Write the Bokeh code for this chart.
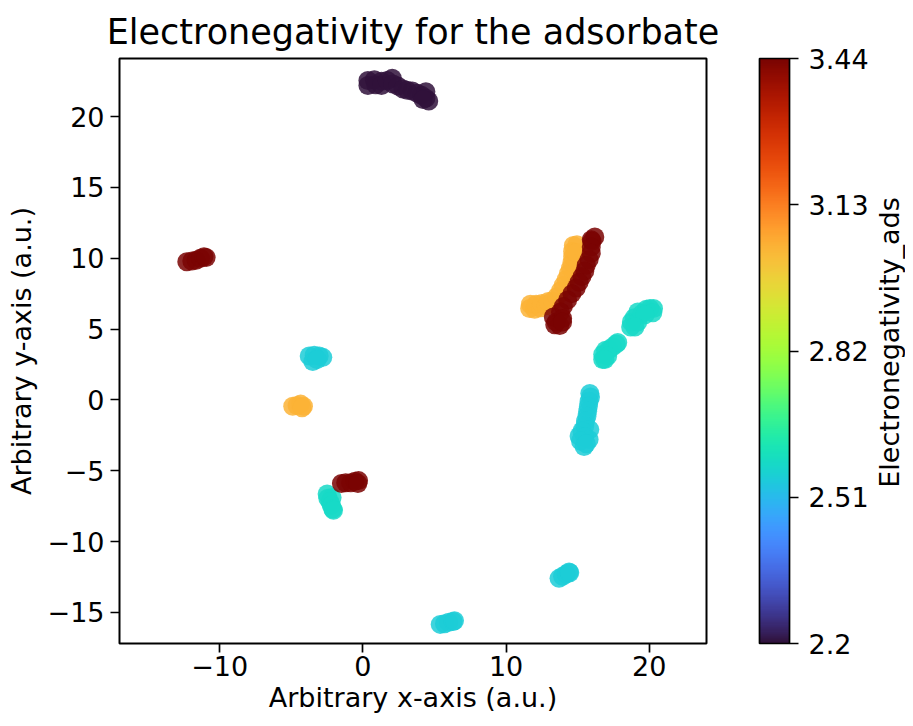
from bokeh.plotting import figure
from bokeh.layouts import row
from bokeh.models import (ColumnDataSource, ColorBar, LinearColorMapper, FixedTicker,
                          CustomJSTickFormatter, Label)
from bokeh.palettes import Turbo256
from bokeh.embed import file_html
from bokeh.resources import INLINE

# ---------------- data ----------------
EN_H, EN_C, EN_S, EN_N, EN_O = 2.20, 2.55, 2.58, 3.04, 3.44
EN_LOW, EN_HIGH = 2.2, 3.44
cbar_ticks = [2.2, 2.51, 2.82, 3.13, 3.44]
x_ticks = [-10, 0, 10, 20]
y_ticks = [-15, -10, -5, 0, 5, 10, 15, 20]

# hydrogen (top cluster)
h_x = [0.35, 0.35, 0.8, 0.9, 1.3, 1.3, 1.7, 2.05, 2.1, 2.45, 2.8, 3.1, 3.45, 3.8, 4.1, 4.4, 4.4, 4.6, 4.2]
h_y = [22.55, 22.2, 22.6, 22.25, 22.5, 22.2, 22.55, 22.7, 22.3, 22.15, 21.95, 21.85, 21.8, 21.65, 21.5, 21.75, 21.3, 21.1, 21.2]

# carbon
c_x = [-3.75, -3.4, -3.05, -2.8, -3.5, -3.2,
       5.4, 5.7, 6.0, 6.3, 6.4,
       13.7, 13.95, 14.2, 14.4, 14.45,
       15.85, 15.9, 15.8, 15.75, 15.7, 15.65, 15.55, 15.5, 15.85, 15.3, 15.1, 15.5, 15.8, 15.2, 15.45, 15.6]
c_y = [3.1, 3.15, 3.1, 3.0, 2.7, 2.85,
       -15.85, -15.8, -15.7, -15.65, -15.6,
       -12.6, -12.45, -12.3, -12.15, -12.2,
       0.45, 0.2, -0.1, -0.45, -0.8, -1.15, -1.5, -1.85, -2.1, -2.2, -2.55, -2.6, -2.8, -2.9, -3.3, -3.1]

# sulfur
s_x = [-2.5, -2.45, -2.15, -2.3, -2.2, -2.1, -2.05,
       16.75, 16.75, 16.95, 17.2, 17.45, 17.7, 17.8, 17.1, 16.9,
       18.7, 18.75, 18.95, 19.2, 19.2, 19.5, 19.8, 20.05, 20.3, 20.25, 19.7, 19.0]
s_y = [-6.65, -6.95, -6.9, -7.2, -7.45, -7.7, -7.8,
       2.85, 3.2, 3.5, 3.55, 3.75, 3.95, 4.05, 3.1, 2.85,
       5.15, 5.5, 5.8, 6.2, 5.5, 6.1, 6.4, 6.45, 6.45, 6.15, 6.0, 5.15]

# nitrogen
n_x = [-4.9, -4.6, -4.35, -4.15, -4.25,
       11.65, 11.7, 12.0, 12.1, 12.4, 12.5, 12.8, 12.95, 13.25, 13.55, 13.8, 14.0, 14.2,
       14.35, 14.5, 14.6, 14.65, 14.65, 14.7, 14.95, 14.9]
n_y = [-0.45, -0.4, -0.3, -0.45, -0.55,
       6.45, 6.75, 6.4, 6.75, 6.5, 6.8, 6.65, 6.95, 7.0, 7.3, 7.7, 8.1, 8.5,
       8.9, 9.3, 9.7, 10.1, 10.5, 10.9, 10.95, 10.4]

# oxygen
o_x = [-12.3, -11.95, -11.65, -11.35, -11.1, -10.95,
       -1.5, -1.2, -0.85, -0.55, -0.3, -0.35,
       16.2, 15.95, 16.0, 15.95, 15.95, 15.8, 15.6, 15.5, 15.3, 15.1, 14.9, 14.6, 14.3, 14.0,
       13.8, 13.3, 13.5, 13.95, 13.4, 13.75, 13.95]
o_y = [9.75, 9.8, 9.85, 10.0, 10.1, 10.05,
       -5.9, -5.85, -5.85, -5.75, -5.7, -5.9,
       11.5, 11.3, 11.2, 10.8, 10.35, 9.9, 9.5, 9.1, 8.7, 8.3, 7.9, 7.5, 7.05, 6.6,
       6.2, 5.85, 5.5, 5.75, 5.3, 5.25, 5.5]

# ---------------- build source ----------------
xs, ys, ens = [], [], []
for gx, gy, ev in [(h_x, h_y, EN_H), (c_x, c_y, EN_C), (s_x, s_y, EN_S),
                   (n_x, n_y, EN_N), (o_x, o_y, EN_O)]:
    xs += gx
    ys += gy
    ens += [ev] * len(gx)
src = ColumnDataSource(dict(x=xs, y=ys, en=ens))

mapper = LinearColorMapper(palette=Turbo256, low=EN_LOW, high=EN_HIGH)

FONT = "DejaVu Sans"
TICK_FS = "27px"
TOP, FRAME_H, BOTTOM = 58, 585, 79
LEFT, FRAME_W, RIGHT = 119, 587, 163

p = figure(frame_width=FRAME_W, frame_height=FRAME_H,
           min_border_left=LEFT, min_border_top=TOP, min_border_bottom=BOTTOM,
           min_border_right=RIGHT,
           x_range=(-17.0, 24.0), y_range=(-17.2, 24.1),
           output_backend="svg", toolbar_location=None,
           title="Electronegativity for the adsorbate")

p.title.text_font = FONT
p.title.text_font_size = "35px"
p.title.text_font_style = "normal"
p.title.align = "center"
p.title.text_color = "black"
p.title.standoff = 13

p.scatter("x", "y", source=src, size=19, marker="circle",
          fill_color={"field": "en", "transform": mapper},
          line_color=None, fill_alpha=0.85)

p.xgrid.visible = False
p.ygrid.visible = False
p.outline_line_color = "black"
p.outline_line_width = 2
p.background_fill_color = "white"
p.border_fill_color = "white"

fmt = CustomJSTickFormatter(code="return tick < 0 ? '\u2212' + Math.abs(tick) : tick.toString();")

for ax, ticks in [(p.xaxis[0], x_ticks), (p.yaxis[0], y_ticks)]:
    ax.ticker = FixedTicker(ticks=ticks)
    ax.formatter = fmt
    ax.axis_line_color = None
    ax.major_tick_line_color = "black"
    ax.major_tick_line_width = 1.7
    ax.major_tick_out = 9
    ax.major_tick_in = 0
    ax.minor_tick_line_color = None
    ax.major_label_text_font = FONT
    ax.major_label_text_font_size = TICK_FS
    ax.major_label_text_color = "black"
    ax.axis_label_text_font = FONT
    ax.axis_label_text_font_size = TICK_FS
    ax.axis_label_text_font_style = "normal"
    ax.axis_label_text_color = "black"

p.xaxis.axis_label = "Arbitrary x-axis (a.u.)"
p.yaxis.axis_label = "Arbitrary y-axis (a.u.)"
p.xaxis.major_label_standoff = 3
p.xaxis.axis_label_standoff = 3
p.yaxis.major_label_standoff = 6
p.yaxis.axis_label_standoff = 8

cb_fmt = CustomJSTickFormatter(code="return (Math.round(tick*100)/100).toString();")
cbar = ColorBar(color_mapper=mapper, width=30, height=FRAME_H,
                location=(53, 0), margin=0, padding=0,
                ticker=FixedTicker(ticks=cbar_ticks), formatter=cb_fmt,
                major_tick_out=9, major_tick_in=0,
                major_tick_line_color="black", major_tick_line_width=1.7,
                bar_line_color="black", bar_line_width=1.7,
                border_line_color=None, background_fill_alpha=0,
                label_standoff=10,
                major_label_text_font=FONT, major_label_text_font_size=TICK_FS,
                major_label_text_color="black")
p.add_layout(cbar, "right")

# strip holding the colour bar's rotated title
TOTAL_H = TOP + FRAME_H + BOTTOM
STRIP_W = 34
p2 = figure(width=STRIP_W, height=TOTAL_H, x_range=(0, 1), y_range=(0, 1),
            min_border=0, x_axis_location=None, y_axis_location=None,
            toolbar_location=None, output_backend="svg")
p2.outline_line_color = None
p2.grid.grid_line_color = None
p2.background_fill_color = "white"
p2.border_fill_color = "white"
cb_title = Label(x=0.53, y=1 - (TOP + FRAME_H / 2) / TOTAL_H,
                 text="Electronegativity_ads", angle=90, angle_units="deg",
                 text_align="center", text_baseline="middle",
                 text_font=FONT, text_font_size=TICK_FS, text_color="black")
p2.add_layout(cb_title)

layout = row(p, p2)
open("out.html", "w", encoding="utf-8").write(file_html(layout, INLINE))
